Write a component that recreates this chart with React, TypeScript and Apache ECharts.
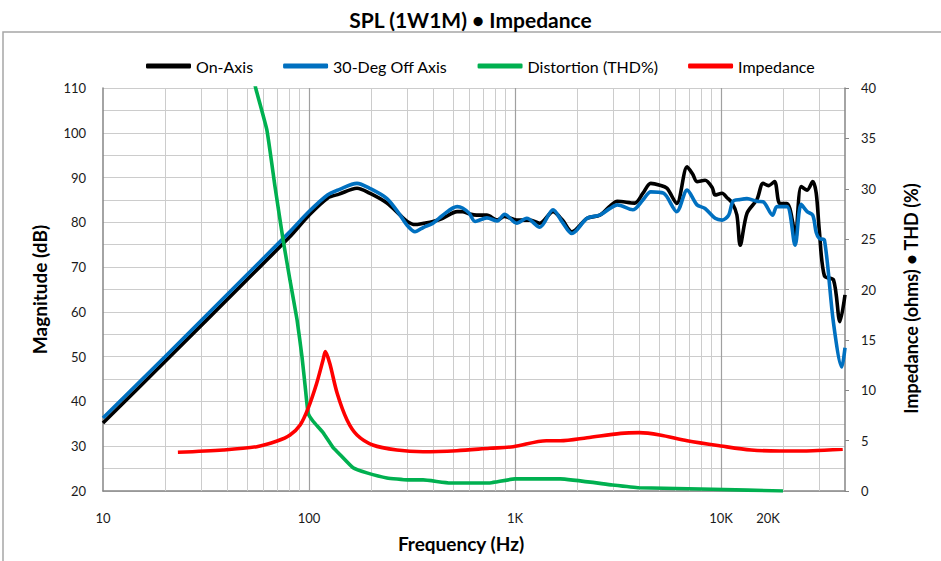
import React, { useEffect, useRef } from 'react';
import * as echarts from 'echarts';

// [frequency Hz, dB]
const onAxis: [number, number][] = [
  [10, 35.2], [20, 48.9], [50, 67.2], [80, 76.6], [100, 81.6], [123, 85.4], [140, 86.3], [171, 87.6],
  [197, 86.5], [239, 84.3], [277, 81.6], [300, 80.2], [327, 79.5], [360, 79.8], [400, 80.2], [446, 80.9],
  [524, 82.4], [556, 82.4], [600, 81.9], [650, 81.6], [730, 81.6], [820, 80.5], [890, 81.3], [1020, 80.5],
  [1180, 80.5], [1320, 79.8], [1530, 82.4], [1700, 80.5], [1890, 77.9], [2240, 80.9], [2580, 81.6],
  [2870, 83.5], [3140, 84.7], [3810, 84.3], [4180, 86.5], [4560, 88.7], [5050, 88.3], [5470, 87.6],
  [6100, 84.2], [6850, 92.4], [7280, 90.8], [7650, 89.1], [8370, 89.4], [9060, 87.8], [9370, 86.1],
  [10130, 86.5], [10700, 85.5], [11300, 84.4], [11940, 81.7], [12400, 74.9], [13370, 82], [14950, 85.1],
  [16000, 88.7], [17000, 88.2], [18200, 89.1], [19300, 84.2], [20900, 84.2], [22300, 80], [22900, 75.3],
  [24500, 88], [26200, 87.2], [27900, 89.1], [29000, 86.5], [30000, 78.3], [31800, 68], [35200, 67.1],
  [37800, 57.8], [40000, 63.8],
];

// [frequency Hz, dB]
const offAxis30: [number, number][] = [
  [10, 36.3], [20, 50.0], [50, 68.3], [80, 77.7], [100, 82.4], [123, 86.1], [140, 87.3], [171, 88.7],
  [197, 87.6], [239, 85.3], [277, 81.6], [300, 79.3], [327, 77.9], [360, 78.9], [400, 79.8], [446, 81.6],
  [524, 83.5], [556, 83.2], [600, 82], [640, 80.2], [730, 81], [820, 80.3], [890, 81.8], [1020, 79.8],
  [1140, 80.9], [1320, 78.9], [1530, 82.8], [1700, 80], [1890, 77.5], [2240, 80.9], [2580, 81.6],
  [2870, 83], [3140, 83.9], [3730, 82.8], [4180, 85], [4560, 86.8], [5260, 86.5], [6100, 82.4],
  [6850, 87.2], [7650, 83.9], [8370, 83.1], [9370, 80.9], [10130, 80.5], [10900, 81.6], [11440, 84.7],
  [12400, 85.1], [13370, 85.3], [14950, 84.7], [16000, 84.6], [17800, 81.6], [18700, 83.5], [20900, 83.5],
  [22900, 74.9], [24500, 84.0], [26200, 82.4], [27900, 81.6], [29000, 77.7], [30000, 76.4], [31800, 76],
  [35200, 57.4], [38600, 47.7], [40000, 52],
];

// [frequency Hz, THD %]
const distortion: [number, number][] = [
  [50, 44], [55.1, 40], [62.5, 35.8], [68.4, 30.2], [74.9, 24.9], [80.9, 20.9], [87.5, 17], [92.5, 13.3],
  [95.8, 10.4], [99.1, 7.7], [104.9, 6.9], [117, 5.8], [131, 4.3], [138.6, 3.8], [163.7, 2.3], [191, 1.8],
  [239, 1.3], [300, 1.1], [358, 1.1], [484, 0.8], [754, 0.8], [812, 0.9], [1000, 1.2], [1660, 1.2],
  [2970, 0.6], [4010, 0.33], [9100, 0.17], [20000, 0.0],
];

// [frequency Hz, ohms]
const impedance: [number, number][] = [
  [23.1, 3.84], [38.3, 4.07], [55.8, 4.4], [70, 4.96], [80.9, 5.56], [90.6, 6.55], [99, 8.2], [109, 10.7],
  [117, 13.0], [120, 13.83], [126, 12.7], [137, 9.7], [153, 7.05], [171, 5.56], [204, 4.57], [267, 4.07],
  [358, 3.9], [522, 4.0], [754, 4.24], [980, 4.4], [1420, 4.99], [1660, 4.99], [2240, 5.29], [3260, 5.72],
  [4010, 5.79], [5050, 5.56], [6850, 4.99], [10000, 4.47], [14000, 4.07], [19300, 3.97], [27900, 4.0],
  [39000, 4.14],
];

const xLabelValues = [10, 100, 1000, 10000, 20000];
const majorGridFreqs = [100, 1000, 10000];
const minorGridFreqs = [
  20, 30, 40, 50, 60, 70, 80, 90,
  200, 300, 400, 500, 600, 700, 800, 900,
  2000, 3000, 4000, 5000, 6000, 7000, 8000, 9000,
  20000, 30000,
];

const FONT = 'Lato, "Liberation Sans", sans-serif';

export default function App() {
  const ref = useRef<HTMLDivElement>(null);
  useEffect(() => {
    if (!ref.current) return;
    const chart = echarts.init(ref.current, undefined, { renderer: 'svg' });
    const gridLines = [
      ...minorGridFreqs.map((f) => ({ xAxis: f, lineStyle: { color: '#cccccc', width: 1, type: 'solid' as const } })),
      ...majorGridFreqs.map((f) => ({ xAxis: f, lineStyle: { color: '#a0a0a0', width: 1.2, type: 'solid' as const } })),
    ];
    const lineBase = {
      type: 'line' as const,
      showSymbol: false,
      symbol: 'none',
      smooth: 0.3,
      clip: true,
    };
    chart.setOption({
      animation: false,
      textStyle: { fontFamily: FONT },
      title: {
        text: 'SPL (1W1M) • Impedance',
        left: 'center',
        top: 4,
        textStyle: { fontFamily: FONT, fontSize: 21, fontWeight: 'bold', color: '#000' },
      },
      legend: {
        left: 141,
        top: 53,
        icon: 'roundRect',
        itemWidth: 45,
        itemHeight: 5,
        itemGap: 30,
        textStyle: { fontFamily: FONT, fontSize: 16, color: '#000' },
        data: ['On-Axis', '30-Deg Off Axis', 'Distortion (THD%)', 'Impedance'],
      },
      graphic: [
        {
          type: 'rect',
          silent: true,
          z: -10,
          shape: { x: 3, y: 32, width: 1000, height: 600 },
          style: { fill: 'none', stroke: '#a6a6a6', lineWidth: 1.5 },
        },
      ],
      grid: { left: 103, right: 96, top: 88, bottom: 70, containLabel: false, outerBoundsMode: 'none' },
      xAxis: {
        type: 'log',
        logBase: 10,
        min: 10,
        max: 40000,
        name: 'Frequency (Hz)',
        nameLocation: 'middle',
        nameGap: 43,
        nameTextStyle: { fontFamily: FONT, fontSize: 19, fontWeight: 'bold', color: '#000', padding: [0, 26, 0, 0] },
        axisLine: { show: true, lineStyle: { color: '#868686', width: 1.5 } },
        axisTick: { show: false },
        splitLine: { show: false },
        minorSplitLine: { show: false },
        axisLabel: {
          customValues: xLabelValues,
          margin: 20,
          fontSize: 13,
          color: '#1a1a1a',
          fontFamily: FONT,
          formatter: (v: number) => {
            const r = Math.round(v);
            if (r === 20000) return '{s|20K}';
            return r >= 1000 ? `${r / 1000}K` : `${r}`;
          },
          rich: { s: { fontSize: 13, color: '#1a1a1a', fontFamily: FONT, padding: [0, 30, 0, 0] } },
        },
      },
      yAxis: [
        {
          type: 'value',
          min: 20,
          max: 110,
          interval: 5,
          position: 'left',
          name: 'Magnitude (dB)',
          nameLocation: 'middle',
          nameGap: 54,
          nameTextStyle: { fontFamily: FONT, fontSize: 19, fontWeight: 'bold', color: '#000' },
          axisLine: { show: true, lineStyle: { color: '#868686', width: 1.5 } },
          axisTick: { show: false },
          splitLine: { show: true, lineStyle: { color: '#cccccc', width: 1 } },
          axisLabel: {
            margin: 17,
            fontSize: 13,
            color: '#1a1a1a',
            fontFamily: FONT,
            formatter: (v: number) => (Math.round(v) % 10 === 0 ? `${Math.round(v)}` : ''),
          },
        },
        {
          type: 'value',
          min: 0,
          max: 40,
          interval: 5,
          position: 'right',
          name: 'Impedance (ohms) • THD (%)',
          nameLocation: 'middle',
          nameGap: 57,
          nameTextStyle: { fontFamily: FONT, fontSize: 18, fontWeight: 'bold', color: '#000', padding: [0, 18, 0, 0] },
          axisLine: { show: true, lineStyle: { color: '#868686', width: 1.5 } },
          axisTick: { show: true, inside: false, length: 4, lineStyle: { color: '#868686', width: 1 } },
          splitLine: { show: false },
          axisLabel: { margin: 16, fontSize: 13, color: '#1a1a1a', fontFamily: FONT },
        },
      ],
      series: [
        {
          ...lineBase,
          name: 'On-Axis',
          yAxisIndex: 0,
          z: 3,
          data: onAxis,
          color: '#000000',
          lineStyle: { color: '#000000', width: 3.6 },
          markLine: {
            silent: true,
            z: 1,
            symbol: ['none', 'none'],
            animation: false,
            label: { show: false },
            emphasis: { disabled: true },
            data: gridLines,
          },
        },
        {
          ...lineBase,
          name: '30-Deg Off Axis',
          yAxisIndex: 0,
          z: 4,
          data: offAxis30,
          color: '#0070C0',
          lineStyle: { color: '#0070C0', width: 3.6 },
        },
        {
          ...lineBase,
          name: 'Distortion (THD%)',
          yAxisIndex: 1,
          z: 5,
          smooth: 0.12,
          data: distortion,
          color: '#00B050',
          lineStyle: { color: '#00B050', width: 3.6 },
        },
        {
          ...lineBase,
          name: 'Impedance',
          yAxisIndex: 1,
          z: 6,
          data: impedance,
          color: '#FF0000',
          lineStyle: { color: '#FF0000', width: 3.6 },
        },
      ],
    });
    return () => chart.dispose();
  }, []);
  return (
    <div
      ref={ref}
      style={{ position: 'fixed', left: 0, top: 0, width: 941, height: 561, background: '#ffffff' }}
    />
  );
}
